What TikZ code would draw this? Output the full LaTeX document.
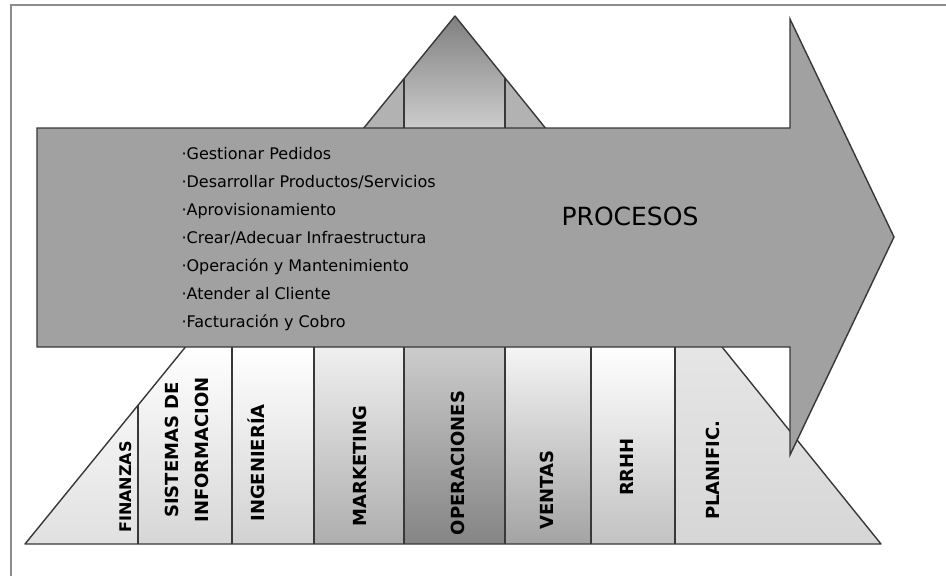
\documentclass[tikz,border=0pt]{standalone}
\usepackage{fontspec}
\setmainfont{DejaVu Sans}
\definecolor{arrowgray}{gray}{0.63}
\definecolor{linegray}{gray}{0.22}
\definecolor{framegray}{gray}{0.55}
\tikzset{
    area/.style={rotate=90, align=center, font=\fontsize{18}{30}\selectfont\bfseries},
    strip/.style={linegray, line width=1.2pt}
}
\begin{document}
\begin{tikzpicture}[x=1pt, y=-1pt]
    \useasboundingbox (0,0) rectangle (946,576);

    % Frame
    \draw[framegray, line width=2pt] (11,576) -- (11,5) -- (946,5);

    % Triangle strips
    \begin{scope}
    \clip (455,16) -- (25,544) -- (881,544) -- cycle;
    \fill[black!30] (300,16) rectangle (404,128);
    \shade[top color=black!50, bottom color=black!20] (404,16) rectangle (505,128);
    \fill[black!30] (505,16) rectangle (600,128);
    \shade[top color=white, bottom color=black!12] (20,347) rectangle (138,544);
    \shade[top color=white, bottom color=black!16] (138,347) rectangle (232,544);
    \shade[top color=white, bottom color=black!18] (232,347) rectangle (314,544);
    \shade[top color=black!6, bottom color=black!32] (314,347) rectangle (404,544);
    \shade[top color=black!20, bottom color=black!48] (404,347) rectangle (505,544);
    \shade[top color=black!4, bottom color=black!36] (505,347) rectangle (591,544);
    \shade[top color=white, bottom color=black!24] (591,347) rectangle (675,544);
    \shade[top color=black!10, middle color=white, bottom color=black!16] (675,347) rectangle (890,544);
    \draw[strip] (404,16) -- (404,128);
    \draw[strip] (505,16) -- (505,128);
    \draw[strip] (138,347) -- (138,544);
    \draw[strip] (232,347) -- (232,544);
    \draw[strip] (314,347) -- (314,544);
    \draw[strip] (404,347) -- (404,544);
    \draw[strip] (505,347) -- (505,544);
    \draw[strip] (591,347) -- (591,544);
    \draw[strip] (675,347) -- (675,544);
    \end{scope}
    \draw[linegray, line width=1.4pt, line join=round] (455,16) -- (25,544) -- (881,544) -- cycle;

    % Process arrow
    \draw[linegray, line width=1.4pt, fill=arrowgray]
    (37,128) -- (790,128) -- (790,19) -- (894,237) -- (790,455) -- (790,347) -- (37,347) -- cycle;

    % Process list
    \node[anchor=west, align=left, font=\fontsize{16}{28}\selectfont] (tasks) at (178,239)
    {·Gestionar Pedidos\\ ·Desarrollar Productos/Servicios\\ ·Aprovisionamiento\\
     ·Crear/Adecuar Infraestructura\\ ·Operación y Mantenimiento\\ ·Atender al Cliente\\
     ·Facturación y Cobro};
    \node[font=\fontsize{25}{28}\selectfont] (procesos) at (630,216) {PROCESOS};

    % Functional areas
    \node[area, font=\fontsize{16}{30}\selectfont\bfseries] (finanzas) at (126,487) {FINANZAS};
    \node[area] (sistemas) at (187,450) {SISTEMAS DE\\ INFORMACION};
    \node[area] (ingenieria) at (256,463) {INGENIERÍA};
    \node[area] (marketing) at (360,466) {MARKETING};
    \node[area] (operaciones) at (458,463) {OPERACIONES};
    \node[area] (ventas) at (547,490) {VENTAS};
    \node[area] (rrhh) at (627,467) {RRHH};
    \node[area] (planific) at (713,470) {PLANIFIC.};
\end{tikzpicture}
\end{document}
